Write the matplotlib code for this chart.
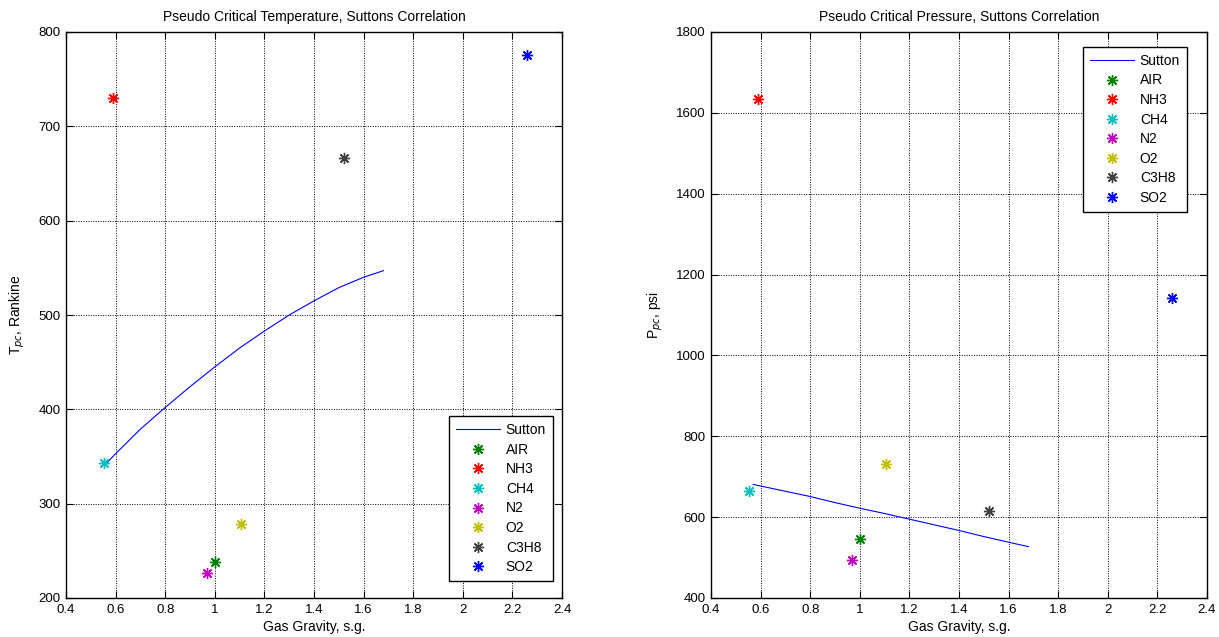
import matplotlib.pyplot as plt
import numpy as np

plt.rcParams['font.family'] = ['Liberation Sans', 'DejaVu Sans']
plt.rcParams['font.size'] = 10

# Sutton correlation curve
sg_curve = [0.56, 0.6, 0.7, 0.8, 0.9, 1.0, 1.1, 1.2, 1.3, 1.4, 1.5, 1.6, 1.68]
tpc_curve = [342, 353, 379, 402, 424, 445, 465, 483, 500, 515, 529, 540, 547]
sg_curve_p = [0.57, 0.6, 0.7, 0.8, 0.9, 1.0, 1.1, 1.2, 1.3, 1.4, 1.5, 1.6, 1.68]
ppc_curve = [681, 677, 664, 651, 636, 622, 609, 595, 581, 567, 552, 538, 527]

# individual gases
gases = ['AIR', 'NH3', 'CH4', 'N2', 'O2', 'C3H8', 'SO2']
gas_sg = [1.0, 0.59, 0.555, 0.967, 1.105, 1.52, 2.26]
gas_tpc = [238, 730, 343, 227, 278, 666, 776]
gas_ppc = [547, 1635, 665, 493, 731, 616, 1143]
gas_colors = [(0, 0.5, 0), (1, 0, 0), (0, 0.75, 0.75), (0.75, 0, 0.75),
              (0.75, 0.75, 0), (0.25, 0.25, 0.25), (0, 0, 1)]

W, H = 1219, 637
fig = plt.figure(figsize=(W/100, H/100), dpi=100)

def px_axes(x0, x1, y0, y1):
    return fig.add_axes([x0/W, (H-y1)/H, (x1-x0)/W, (y1-y0)/H])

ax1 = px_axes(66, 562, 32, 598)
ax2 = px_axes(711, 1207, 32, 598)

star = (8, 2, 0)  # matlab-ish asterisk

def draw(ax, xc, yc, yvals, title, ylabel, ylim, yticks, loc, anchor):
    ax.plot(xc, yc, color='blue', lw=0.8, label='Sutton')
    for name, x, y, c in zip(gases, gas_sg, yvals, gas_colors):
        ax.plot([x], [y], ls='none', marker=star, ms=8, mew=1.0,
                color=c, label=name)
    ax.set_xlim(0.4, 2.4)
    ax.set_xticks(np.arange(0.4, 2.41, 0.2))
    ax.set_xticklabels(['0.4', '0.6', '0.8', '1', '1.2', '1.4', '1.6',
                        '1.8', '2', '2.2', '2.4'])
    ax.set_ylim(*ylim)
    ax.set_yticks(yticks)
    ax.grid(True, color='black', ls=(0, (1, 1.5)), lw=0.7)
    ax.tick_params(direction='in', top=True, right=True, length=5,
                   labelsize=9.5, pad=4)
    for s in ax.spines.values():
        s.set_linewidth(1.0)
    ax.set_title(title, fontsize=10, pad=8)
    ax.set_xlabel('Gas Gravity, s.g.', fontsize=10, labelpad=3)
    ax.set_ylabel(ylabel, fontsize=10, labelpad=8)
    leg = ax.legend(loc=loc, bbox_to_anchor=anchor, fancybox=False,
                    edgecolor='black', framealpha=1, fontsize=10,
                    handlelength=3.2, labelspacing=0.4, borderpad=0.5,
                    handletextpad=0.4, borderaxespad=0)
    leg.get_frame().set_linewidth(1.0)

draw(ax1, sg_curve, tpc_curve, gas_tpc,
     'Pseudo Critical Temperature, Suttons Correlation',
     'T$_{pc}$, Rankine', (200, 800), range(200, 801, 100),
     'lower right', ((553-66)/496, (598-581)/566))
draw(ax2, sg_curve_p, ppc_curve, gas_ppc,
     'Pseudo Critical Pressure, Suttons Correlation',
     'P$_{pc}$, psi', (400, 1800), range(400, 1801, 200),
     'upper right', ((1187-711)/496, (598-47)/566))

fig.savefig('out.png', dpi=100)
